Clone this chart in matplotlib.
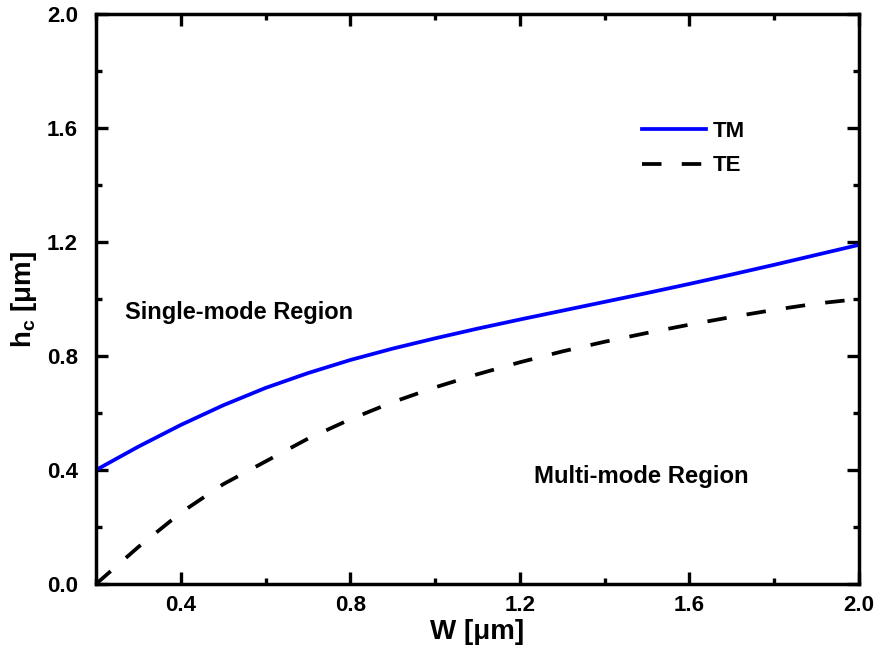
import numpy as np
import matplotlib.pyplot as plt
from matplotlib.ticker import MultipleLocator

plt.rcParams['font.family'] = ['Liberation Sans', 'DejaVu Sans']
plt.rcParams['font.weight'] = 'bold'
plt.rcParams['mathtext.fontset'] = 'custom'
plt.rcParams['mathtext.rm'] = 'Liberation Sans:bold'
plt.rcParams['mathtext.bf'] = 'Liberation Sans:bold'

# ancho de la guia W [um]
w = [0.2, 0.3, 0.4, 0.5, 0.6, 0.7, 0.8, 0.9, 1.0, 1.1, 1.2, 1.3, 1.4,
     1.5, 1.6, 1.7, 1.8, 1.9, 2.0]
# altura de corte h_c [um]
h_tm = [0.40, 0.482, 0.558, 0.627, 0.688, 0.74, 0.786, 0.826, 0.862, 0.896, 0.928,
        0.959, 0.99, 1.021, 1.053, 1.086, 1.12, 1.155, 1.19]
h_te = [0.0, 0.13, 0.25, 0.35, 0.43, 0.51, 0.578, 0.638, 0.69, 0.736, 0.778,
        0.816, 0.85, 0.881, 0.91, 0.937, 0.962, 0.984, 1.0]

fig = plt.figure(figsize=(8.78, 6.55), dpi=100)
ax = fig.add_axes([96 / 878, 1 - 584 / 655, 763 / 878, 570 / 655])

ax.plot(w, h_tm, color='#0000ff', linewidth=2.7, label='TM')
ax.plot(w, h_te, color='black', linewidth=2.7, dashes=(5.2, 5.4), label='TE')

ax.set_xlim(0.2, 2.0)
ax.set_ylim(0.0, 2.0)
ax.xaxis.set_minor_locator(MultipleLocator(0.2))
ax.yaxis.set_minor_locator(MultipleLocator(0.2))
ax.set_xticks([0.4, 0.8, 1.2, 1.6, 2.0])
ax.set_yticks([0.0, 0.4, 0.8, 1.2, 1.6, 2.0])
ax.xaxis.set_major_formatter(plt.FuncFormatter(lambda v, p: f'{v:.1f}'))
ax.yaxis.set_major_formatter(plt.FuncFormatter(lambda v, p: f'{v:.1f}'))

ax.tick_params(which='both', direction='in', top=True, right=True, width=2.4,
               labelsize=16)
ax.tick_params(which='major', length=8.5)
ax.tick_params(which='minor', length=4.5)
ax.tick_params(axis='y', which='major', pad=13)
ax.tick_params(axis='x', which='major', pad=8)
for s in ax.spines.values():
    s.set_linewidth(2.5)

ax.set_xlabel('W [μm]', fontsize=20, fontweight='bold', labelpad=2)
ax.set_ylabel(r'h$_\mathbf{c}$ [μm]', fontsize=20, fontweight='bold', labelpad=6)

ax.text(0.268, 0.953, 'Single-mode Region', fontsize=17, fontweight='bold',
        va='center', ha='left')
ax.text(1.234, 0.378, 'Multi-mode Region', fontsize=17.2, fontweight='bold',
        va='center', ha='left')

ax.legend(loc='upper left', bbox_to_anchor=(0.715, 0.813), frameon=False,
          fontsize=16, handlelength=2.9, handletextpad=0.3, labelspacing=0.62,
          borderpad=0, borderaxespad=0)

fig.savefig('out.png', dpi=100)
